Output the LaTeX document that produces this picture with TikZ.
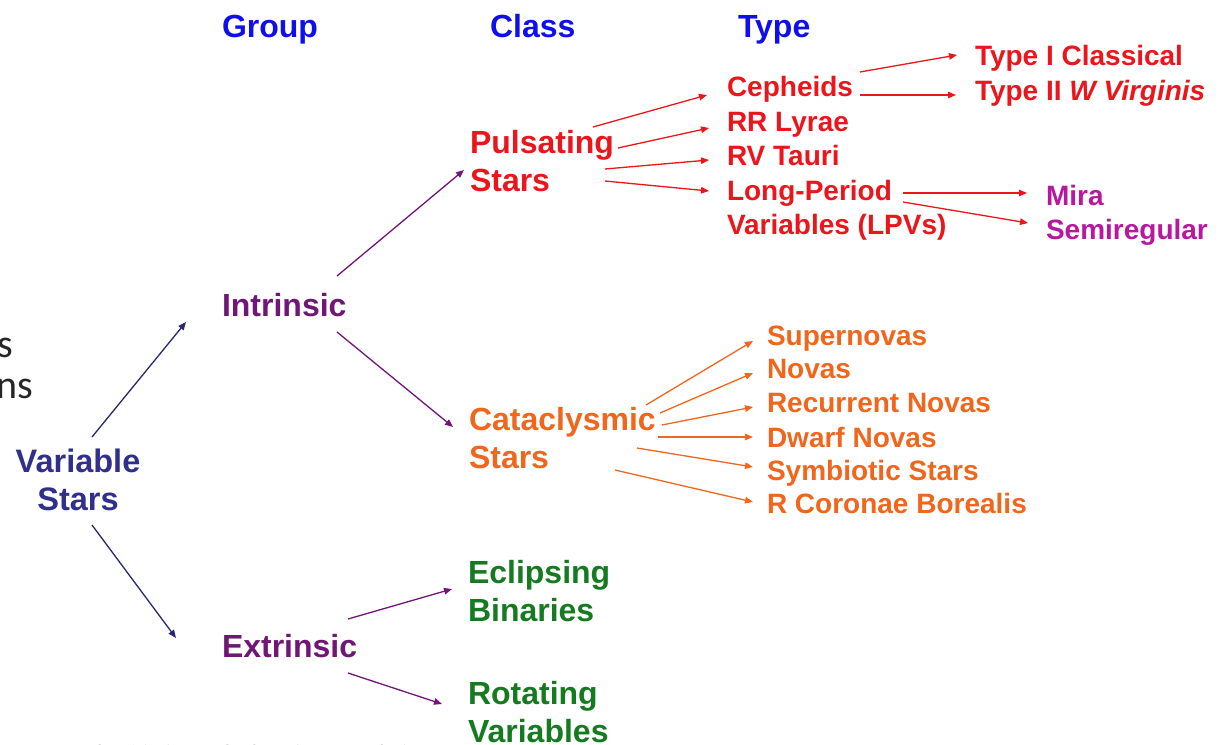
\documentclass[tikz,border=0pt]{standalone}
\usepackage{fontspec}
\setmainfont{Liberation Sans}
\newfontfamily\calib{Carlito}
\usetikzlibrary{arrows.meta}
\definecolor{hdrblue}{RGB}{15,15,235}
\definecolor{navy}{RGB}{48,48,140}
\definecolor{navyline}{RGB}{40,40,110}
\definecolor{grp}{RGB}{112,22,118}
\definecolor{pred}{RGB}{235,22,28}
\definecolor{corange}{RGB}{240,102,28}
\definecolor{egreen}{RGB}{22,122,32}
\definecolor{mag}{RGB}{182,24,160}
\definecolor{footgray}{RGB}{120,120,120}
\tikzset{
  lbl/.style={inner sep=0pt, outer sep=0pt, anchor=base west},
  hdr/.style={lbl, font=\fontsize{32}{38}\selectfont\bfseries, text=hdrblue},
  big/.style={lbl, font=\fontsize{32}{38}\selectfont\bfseries},
  small/.style={lbl, font=\fontsize{28}{34}\selectfont\bfseries},
  arr/.style={line width=1.3pt, -{Triangle[length=8pt,width=6.5pt]}},
}
\newcommand{\twoline}[2]{\begin{tabular}[t]{@{}l@{}}#1\\#2\end{tabular}}
\begin{document}
\begin{tikzpicture}[x=1pt,y=-1pt]
\useasboundingbox (0,0) rectangle (1228,744);
\clip (0,0) rectangle (1228,744);
\fill[white] (0,0) rectangle (1228,744);

% headers
\node[hdr] (hgroup) at (222,37) {Group};
\node[hdr] (hclass) at (490,37) {Class};
\node[hdr] (htype) at (738,37) {Type};

% fragments at the left and the footer
\node[inner sep=0pt, anchor=base east, font=\calib\fontsize{40}{48}\selectfont, text=black!85] (fraga) at (13,357) {s};
\node[inner sep=0pt, anchor=base east, font=\calib\fontsize{40}{48}\selectfont, text=black!85] (fragb) at (33,398) {ns};
\node[lbl, font=\calib\fontsize{22}{26}\selectfont, text=footgray] (foot) at (28,760) {Research Initiative and Education Foundation};

% root
\node[inner sep=0pt, anchor=base, font=\fontsize{32.5}{38}\selectfont\bfseries, text=navy] (vs) at (78,472)
  {\begin{tabular}[t]{@{}c@{}}Variable\\Stars\end{tabular}};

% groups
\node[big, text=grp] (intr) at (222,316) {Intrinsic};
\node[big, text=grp] (extr) at (222,657) {Extrinsic};

% classes
\node[big, text=pred] (puls) at (470,153) {\twoline{Pulsating}{Stars}};
\node[big, text=corange] (cata) at (469,430) {\twoline{Cataclysmic}{Stars}};
\node[big, text=egreen] (ecl) at (468,583) {\twoline{Eclipsing}{Binaries}};
\node[big, text=egreen] (rot) at (468,704) {\twoline{Rotating}{Variables}};

% types (pulsating)
\node[small, text=pred] (ceph) at (727,96) {Cepheids};
\node[small, text=pred] (rr) at (727,131) {RR Lyrae};
\node[small, text=pred] (rv) at (727,165) {RV Tauri};
\node[small, text=pred] (lpv) at (727,200) {\twoline{Long-Period}{Variables (LPVs)}};
\node[small, text=pred] (t1) at (975,65) {Type I Classical};
\node[small, text=pred] (t2) at (975,100) {Type II \textit{W Virginis}};
\node[small, text=mag] (mira) at (1046,205) {Mira};
\node[small, text=mag] (semi) at (1046,239) {Semiregular};

% types (cataclysmic)
\node[small, text=corange] (sn) at (767,345) {Supernovas};
\node[small, text=corange] (nv) at (767,378) {Novas};
\node[small, text=corange] (rn) at (767,412) {Recurrent Novas};
\node[small, text=corange] (dn) at (767,447) {Dwarf Novas};
\node[small, text=corange] (ss) at (767,480) {Symbiotic Stars};
\node[small, text=corange] (rcb) at (767,513) {R Coronae Borealis};

% connectors: root -> groups
\draw[arr, navyline] ([shift={(14,-35)}]vs.base) -- ([shift={(-36,6)}]intr.base west);
\draw[arr, navyline] ([shift={(14,53)}]vs.base) -- ([shift={(-46,-19)}]extr.base west);

% groups -> classes
\draw[arr, grp] ([shift={(115,-40)}]intr.base west) -- ([shift={(-6,17)}]puls.base west);
\draw[arr, grp] ([shift={(115,16)}]intr.base west) -- ([shift={(-16,-3)}]cata.base west);
\draw[arr, grp] ([shift={(126,-38)}]extr.base west) -- ([shift={(-16,6)}]ecl.base west);
\draw[arr, grp] ([shift={(126,16)}]extr.base west) -- ([shift={(-26,0)}]rot.base west);

% pulsating -> types
\draw[arr, pred] ([shift={(123,-26)}]puls.base west) -- ([shift={(-20,-1)}]ceph.base west);
\draw[arr, pred] ([shift={(148,-5)}]puls.base west) -- ([shift={(-18,-3)}]rr.base west);
\draw[arr, pred] ([shift={(135,16)}]puls.base west) -- ([shift={(-18,-5)}]rv.base west);
\draw[arr, pred] ([shift={(135,28)}]puls.base west) -- ([shift={(-18,-9)}]lpv.base west);

% cepheids -> subtypes
\draw[arr, pred] ([shift={(133,-24)}]ceph.base west) -- ([shift={(-18,-10)}]t1.base west);
\draw[arr, pred] ([shift={(133,-1)}]ceph.base west) -- ([shift={(-19,-5)}]t2.base west);

% LPVs -> subtypes
\draw[arr, pred] ([shift={(176,-7)}]lpv.base west) -- ([shift={(-19,-12)}]mira.base west);
\draw[arr, pred] ([shift={(176,2)}]lpv.base west) -- ([shift={(-18,-16)}]semi.base west);

% cataclysmic -> types
\draw[arr, corange] ([shift={(177,-25)}]cata.base west) -- ([shift={(-14,-4)}]sn.base west);
\draw[arr, corange] ([shift={(191,-17)}]cata.base west) -- ([shift={(-14,-5)}]nv.base west);
\draw[arr, corange] ([shift={(193,-5)}]cata.base west) -- ([shift={(-14,-5)}]rn.base west);
\draw[arr, corange] ([shift={(189,7)}]cata.base west) -- ([shift={(-14,-10)}]dn.base west);
\draw[arr, corange] ([shift={(168,18)}]cata.base west) -- ([shift={(-14,-13)}]ss.base west);
\draw[arr, corange] ([shift={(146,40)}]cata.base west) -- ([shift={(-14,-11)}]rcb.base west);
\end{tikzpicture}
\end{document}
